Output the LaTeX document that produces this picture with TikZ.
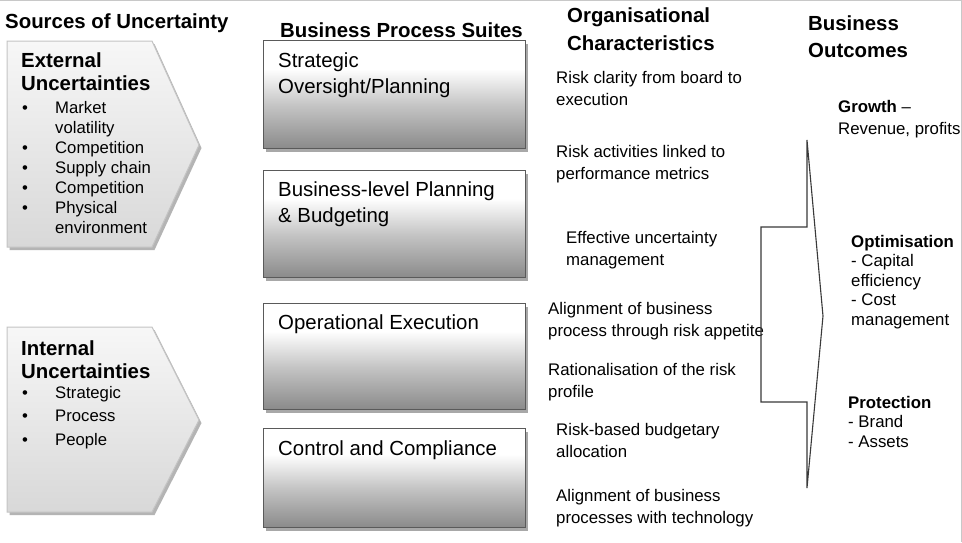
\documentclass[tikz,border=0pt]{standalone}
\usepackage{fontspec}
\setmainfont{Liberation Sans}
\usetikzlibrary{shadows}
\definecolor{bxbot}{HTML}{8A8A8A}
\definecolor{bxmid}{HTML}{C4C4C4}
\definecolor{bxline}{HTML}{5A5A5A}
\definecolor{bxshadow}{HTML}{A8A8A8}
\definecolor{chtop}{HTML}{F7F7F7}
\definecolor{chbot}{HTML}{D8D8D8}
\definecolor{chline}{HTML}{C4C4C4}
\definecolor{chshadow}{HTML}{B4B4B4}
\definecolor{framec}{HTML}{C8C8C8}
\definecolor{brline}{HTML}{3A3A3A}
\pgfdeclareverticalshading{boxshade}{100bp}{color(0bp)=(bxbot); color(25bp)=(bxbot); color(45bp)=(bxmid); color(62bp)=(white); color(100bp)=(white)}
\pgfdeclareverticalshading{chevshade}{100bp}{color(0bp)=(chbot); color(25bp)=(chbot); color(75bp)=(chtop); color(100bp)=(chtop)}
\newcommand{\bitem}[1]{\makebox[33pt][l]{\textbullet}#1}
\newcommand{\bcont}[1]{\hspace*{33pt}#1}
% note: every text node is placed at the baseline of its LAST line
\tikzset{
  headtext/.style={anchor=base west, inner sep=0pt, align=left, font=\fontsize{20.4}{28}\selectfont\bfseries},
  chevtitle/.style={anchor=base west, inner sep=0pt, align=left, font=\fontsize{20.4}{23}\selectfont\bfseries},
  blist/.style={anchor=base west, inner sep=0pt, align=left, font=\fontsize{16.7}{20}\selectfont},
  boxtext/.style={anchor=base west, inner sep=0pt, align=left, font=\fontsize{20.4}{26.5}\selectfont},
  orgtext/.style={anchor=base west, inner sep=0pt, align=left, font=\fontsize{16.8}{22}\selectfont},
  outtext/.style={anchor=base west, inner sep=0pt, align=left, font=\fontsize{16.8}{19.5}\selectfont},
  suitebox/.style={draw=bxline, line width=1.3pt, shading=boxshade, anchor=north west, inner sep=0pt,
    drop shadow={shadow xshift=2.5pt, shadow yshift=-3pt, fill=bxshadow, opacity=1}},
  chevron/.style={draw=chline, line width=1pt, shading=chevshade},
  chevshadowstyle/.style={fill=chshadow},
  bracket/.style={draw=brline, line width=1.1pt, line join=miter},
}
\begin{document}
\begin{tikzpicture}[x=1pt,y=-1pt]
\useasboundingbox (0,0) rectangle (962,542);
\fill[white] (0,0) rectangle (962,542);
\draw[framec, line width=1pt] (0,0.5) -- (961.5,0.5) -- (961.5,542);

% headings
\node[headtext] (h1) at (5,28) {Sources of Uncertainty};
\node[headtext] (h2) at (280,37) {Business Process Suites};
\node[headtext] (h3) at (567,50) {Organisational\\Characteristics};
\node[headtext, font=\fontsize{20.4}{27.5}\selectfont\bfseries] (h4) at (808,57.5) {Business\\Outcomes};

% chevrons
\fill[chevshadowstyle] (9.5,44) -- (154.5,44) -- (201.5,148) -- (154.5,250) -- (9.5,250) -- cycle;
\path[chevron] (7,41) -- (152,41) -- (199,145) -- (152,247) -- (7,247) -- cycle;
\fill[chevshadowstyle] (9.5,330) -- (154.5,330) -- (201.5,423) -- (154.5,515) -- (9.5,515) -- cycle;
\path[chevron] (7,327) -- (152,327) -- (199,420) -- (152,512) -- (7,512) -- cycle;

\node[chevtitle] (ext) at (21,90) {External\\Uncertainties};
\node[blist] (extl) at (22,233) {\bitem{Market}\\\bcont{volatility}\\\bitem{Competition}\\\bitem{Supply chain}\\\bitem{Competition}\\\bitem{Physical}\\\bcont{environment}};
\node[chevtitle] (int) at (21,378) {Internal\\Uncertainties};
\node[blist, font=\fontsize{16.7}{23.5}\selectfont] (intl) at (22,445) {\bitem{Strategic}\\\bitem{Process}\\\bitem{People}};

% business process boxes
\node[suitebox, minimum width=262pt, minimum height=108pt] (b1) at (263,40) {};
\node[suitebox, minimum width=262pt, minimum height=107pt] (b2) at (263,170) {};
\node[suitebox, minimum width=262pt, minimum height=106pt] (b3) at (263,303) {};
\node[suitebox, minimum width=262pt, minimum height=99pt] (b4) at (263,428) {};
\node[boxtext] (t1) at (278,93.5) {Strategic\\Oversight/Planning};
\node[boxtext] (t2) at (278,222.5) {Business-level Planning\\\& Budgeting};
\node[boxtext] (t3) at (278,329) {Operational Execution};
\node[boxtext] (t4) at (278,455) {Control and Compliance};

% organisational characteristics
\node[orgtext] (o1) at (556,105) {Risk clarity from board to\\execution};
\node[orgtext] (o2) at (556,179) {Risk activities linked to\\performance metrics};
\node[orgtext] (o3) at (566,265) {Effective uncertainty\\management};
\node[orgtext] (o4) at (548,336) {Alignment of business\\process through risk appetite};
\node[orgtext] (o5) at (548,397) {Rationalisation of the risk\\profile};
\node[orgtext] (o6) at (556,457) {Risk-based budgetary\\allocation};
\node[orgtext] (o7) at (556,523) {Alignment of business\\processes with technology};

% bracket arrow
\coordinate (p1) at (807,140);
\coordinate (p2) at (807,227);
\coordinate (p3) at (761,227);
\coordinate (p4) at (761,402);
\coordinate (p5) at (807,402);
\coordinate (p6) at (807,488);
\coordinate (tip) at (823,316);
\draw[bracket] (p1) -- (p2) -- (p3) -- (p4) -- (p5) -- (p6) -- (tip) -- cycle;

% outcomes
\node[outtext, font=\fontsize{16.8}{22}\selectfont] (g) at (838,134) {\textbf{Growth} –\\Revenue, profits};
\node[outtext] (op) at (851,325) {\textbf{Optimisation}\\- Capital\\efficiency\\- Cost\\management};
\node[outtext] (pr) at (848,447) {\textbf{Protection}\\- Brand\\- Assets};
\end{tikzpicture}
\end{document}
